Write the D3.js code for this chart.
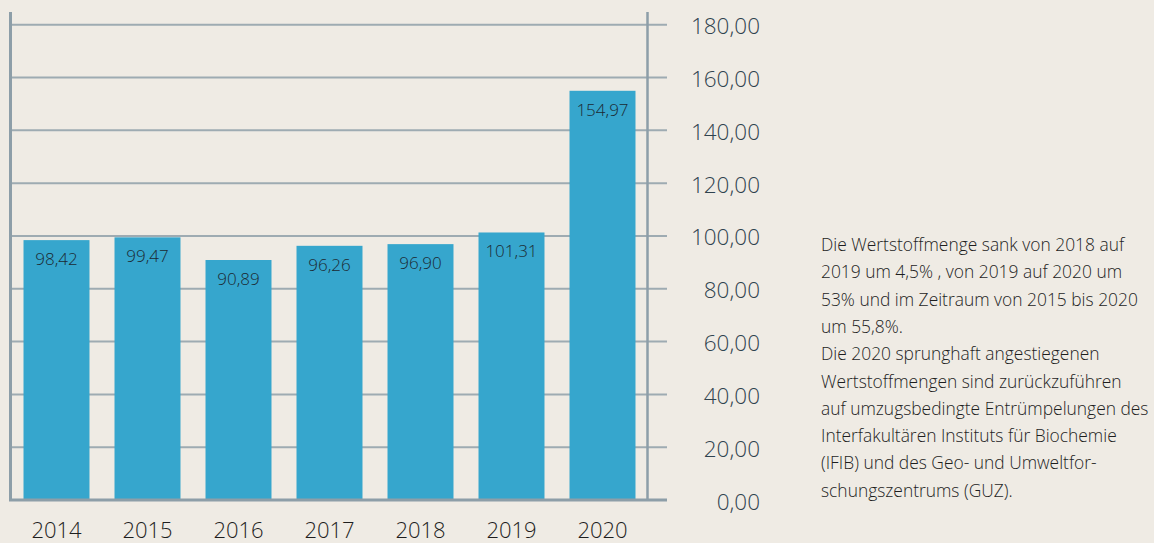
<!DOCTYPE html>
<html>
<head>
<meta charset="utf-8">
<script src="https://cdn.jsdelivr.net/npm/d3@7"></script>
<style>
  html, body { margin: 0; padding: 0; background: #efebe4; }
  svg { display: block; }
</style>
</head>
<body>
<div id="chart"></div>
<script>
var years = ["2014", "2015", "2016", "2017", "2018", "2019", "2020"];
var values = [98.42, 99.47, 90.89, 96.26, 96.90, 101.31, 154.97];
var yTicks = [0, 20, 40, 60, 80, 100, 120, 140, 160, 180];
var noteLines = [
  "Die Wertstoffmenge sank von 2018 auf",
  "2019 um 4,5% , von 2019 auf 2020 um",
  "53% und im Zeitraum von 2015 bis 2020",
  "um 55,8%.",
  "Die 2020 sprunghaft angestiegenen",
  "Wertstoffmengen sind zurückzuführen",
  "auf umzugsbedingte Entrümpelungen des",
  "Interfakultären Instituts für Biochemie",
  "(IFIB) und des Geo- und Umweltfor-",
  "schungszentrums (GUZ)."
];

var W = 1154, H = 543;
var fmt = function(v) { return d3.format(".2f")(v).replace(".", ","); };

var svg = d3.select("#chart")
  .append("svg")
    .attr("width", W)
    .attr("height", H)
    .style("font-family", "'Open Sans', sans-serif");

// scales
var x = d3.scaleBand()
  .domain(years)
  .range([11, 648])
  .paddingInner(0.275)
  .paddingOuter(0.1375);

var y = d3.scaleLinear()
  .domain([0, 180])
  .range([500, 24.7]);

// gridlines
svg.append("g")
  .selectAll("line")
  .data(yTicks.filter(function(d) { return d > 0; }))
  .enter()
  .append("line")
    .attr("x1", 11)
    .attr("x2", 667)
    .attr("y1", function(d) { return y(d); })
    .attr("y2", function(d) { return y(d); })
    .attr("stroke", "#9eabb2")
    .attr("stroke-width", 2);

// bars
svg.append("g")
  .selectAll("rect")
  .data(values)
  .enter()
  .append("rect")
    .attr("x", function(d, i) { return x(years[i]); })
    .attr("y", function(d) { return y(d); })
    .attr("width", x.bandwidth())
    .attr("height", function(d) { return y(0) - y(d); })
    .attr("fill", "#36a6cd");

// value labels
svg.append("g")
  .selectAll("text")
  .data(values)
  .enter()
  .append("text")
    .attr("x", function(d, i) { return x(years[i]) + x.bandwidth() / 2; })
    .attr("y", function(d) { return y(d) + 25; })
    .attr("text-anchor", "middle")
    .attr("font-size", 17)
    .attr("font-weight", 300)
    .attr("fill", "#1c2a33")
    .text(function(d) { return fmt(d); });

// left and right axis lines, baseline
svg.append("line")
  .attr("x1", 10.5).attr("x2", 10.5)
  .attr("y1", 12).attr("y2", 501)
  .attr("stroke", "#8d9ea8")
  .attr("stroke-width", 3);

svg.append("line")
  .attr("x1", 647.5).attr("x2", 647.5)
  .attr("y1", 12).attr("y2", 501)
  .attr("stroke", "#8d9ea8")
  .attr("stroke-width", 2.5);

svg.append("line")
  .attr("x1", 9).attr("x2", 667)
  .attr("y1", y(0)).attr("y2", y(0))
  .attr("stroke", "#8d9ea8")
  .attr("stroke-width", 3);

// right y axis labels
var yAxis = d3.axisRight(y)
  .tickValues(yTicks)
  .tickSize(0)
  .tickPadding(0)
  .tickFormat(fmt);

var gy = svg.append("g")
  .attr("transform", "translate(760,0)")
  .call(yAxis);
gy.select(".domain").remove();
gy.selectAll("text")
  .attr("text-anchor", "end")
  .attr("x", 0)
  .attr("dy", "0.4em")
  .attr("font-size", 22.5)
  .attr("font-weight", 300)
  .attr("font-family", "'Open Sans', sans-serif")
  .attr("fill", "#2f434f");

// x axis labels
var xAxis = d3.axisBottom(x).tickSize(0).tickPadding(0);
var gx = svg.append("g")
  .attr("transform", "translate(0,522)")
  .call(xAxis);
gx.select(".domain").remove();
gx.selectAll("text")
  .attr("dy", "0.71em")
  .attr("y", 0)
  .attr("font-size", 22)
  .attr("font-weight", 300)
  .attr("font-family", "'Open Sans', sans-serif")
  .attr("fill", "#1e1e1e");

// side note
svg.append("g")
  .selectAll("text")
  .data(noteLines)
  .enter()
  .append("text")
    .attr("x", 821)
    .attr("y", function(d, i) { return 251 + i * 27.3; })
    .attr("font-size", 17.4)
    .attr("font-weight", 300)
    .attr("fill", "#1e1e1e")
    .text(function(d) { return d; });
</script>
</body>
</html>
